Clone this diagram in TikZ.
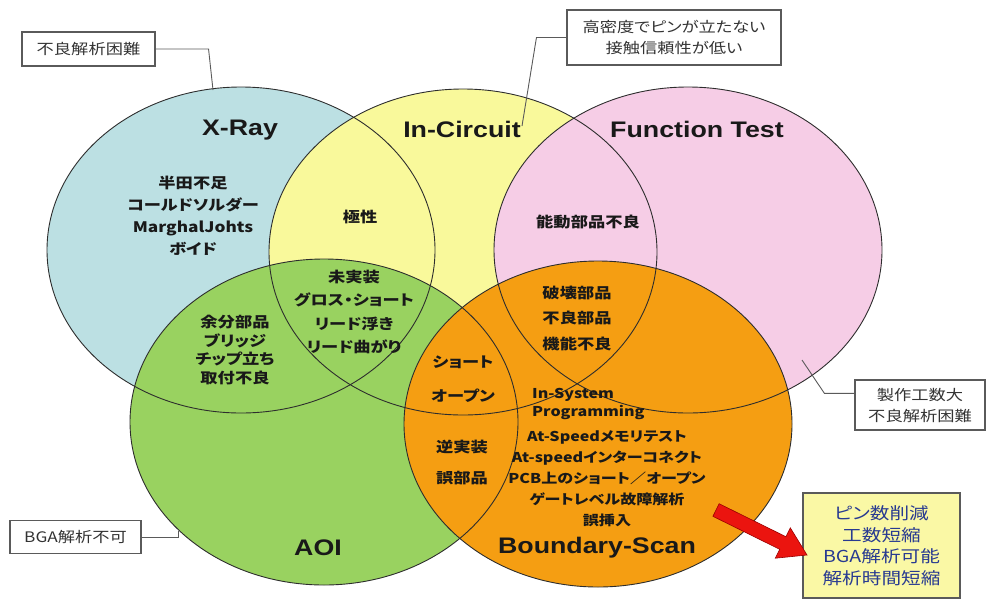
\documentclass[tikz,border=0pt]{standalone}
\usepackage{fontspec}
\setmainfont{Liberation Sans}
\newfontfamily\titlef[FakeStretch=1.19]{Liberation Sans}
\newfontfamily\jpf[FakeStretch=1.19,RawFeature=+palt]{Noto Sans CJK JP}
\usetikzlibrary{shapes.geometric}
\definecolor{xblue}{RGB}{188,224,227}
\definecolor{icyel}{RGB}{249,249,155}
\definecolor{ftpink}{RGB}{246,205,230}
\definecolor{aoigreen}{RGB}{153,210,96}
\definecolor{bsorange}{RGB}{245,158,18}
\definecolor{outl}{RGB}{45,45,45}
\definecolor{boxline}{RGB}{90,90,90}
\definecolor{notey}{RGB}{250,248,165}
\definecolor{noteblue}{RGB}{40,58,145}
\definecolor{arrred}{RGB}{235,20,15}
\tikzset{
  venn/.style={ellipse, minimum width=388pt, minimum height=326pt, inner sep=0pt, outer sep=0pt},
  vennline/.style={draw=outl, line width=0.9pt},
  ttl/.style={font=\titlef\bfseries\fontsize{22.5}{24}\selectfont, text=black!90, inner sep=0pt},
  lab/.style={font=\jpf\bfseries\fontsize{14.5}{#1}\selectfont, align=center, text=black!90, inner sep=0pt},
  lab/.default=20,
  slab/.style={font=\jpf\bfseries\fontsize{13.5}{#1}\selectfont, align=center, text=black!90, inner sep=0pt},
  slab/.default=21,
  callbox/.style={draw=boxline, line width=1.1pt, fill=white, font=\jpf\fontsize{14.5}{21}\selectfont, text=black!80, align=center, inner sep=0pt},
  callline/.style={draw=boxline, line width=0.9pt},
}
\begin{document}
\begin{tikzpicture}[x=1pt,y=-1pt]
\useasboundingbox (0,0) rectangle (987,600);
% filled circles
\node[venn, fill=xblue] (xray) at (241,250) {};
\node[venn, fill=icyel] (incir) at (463,252) {};
\node[venn, fill=ftpink] (func) at (688,250) {};
\node[venn, fill=aoigreen] (aoi) at (324,422) {};
\node[venn, fill=bsorange] (bscan) at (598,424) {};
% outlines
\foreach \n in {xray,incir,func,aoi,bscan}
  \draw[vennline] (\n.center) ellipse [x radius=194pt, y radius=163pt];
% titles
\node[ttl] (txray) at (240,130) {X-Ray};
\node[ttl] (tincir) at (462,129) {In-Circuit};
\node[ttl] (tfunc) at (697,129) {Function Test};
\node[ttl] (taoi) at (318,548) {AOI};
\node[ttl] (tbscan) at (597,548) {Boundary-Scan};
% region labels
\node[lab=22] (lxray) at (193,216) {半田不足\\コールドソルダー\\MarghalJohts\\ボイド};
\node[lab] (lpol) at (360,217) {極性};
\node[lab] (lact) at (588,222) {能動部品不良};
\node[lab=25.5] (lbroken) at (577,318) {破壊部品\\不良部品\\機能不良};
\node[lab=23.3] (lmiss) at (354,312) {未実装\\グロス・ショート\\リード浮き\\リード曲がり};
\node[lab=18.7] (lextra) at (235,350) {余分部品\\ブリッジ\\チップ立ち\\取付不良};
\node[lab=34] (lshort) at (463,379) {ショート\\オープン};
\node[lab=31] (lrev) at (462,462) {逆実装\\誤部品};
\node[slab=18, anchor=west, align=left] (lisp) at (532,404) {In-System\\Programming};
\node[slab=21] (lbs) at (607,479) {At-Speedメモリテスト\\At-speedインターコネクト\\PCB上のショート／オープン\\ゲートレベル故障解析\\誤挿入};
% callouts
\node[callbox, minimum width=133pt, minimum height=34pt] (cb1) at (88.5,49) {不良解析困難};
\coordinate (c1) at (213,90);
\draw[callline] (cb1.east) -- ++(53,0) -- (c1);
\node[callbox, minimum width=214pt, minimum height=55pt] (cb2) at (674,37.5) {高密度でピンが立たない\\接触信頼性が低い};
\coordinate (c2) at (522,126);
\draw[callline] (cb2.west) -- ++(-30,0) -- (c2);
\node[callbox, minimum width=130pt, minimum height=50pt] (cb3) at (920,405) {製作工数大\\不良解析困難};
\coordinate (c3) at (802,360);
\draw[callline] (cb3.170) -- ++(-30,0) -- (c3);
\node[callbox, minimum width=131pt, minimum height=33pt] (cb4) at (75.5,537) {BGA解析不可};
\coordinate (c4) at (178,531);
\draw[callline] (cb4.east) -| (c4);
% result box
\node[draw=boxline, line width=1.1pt, fill=notey, minimum width=157pt, minimum height=105pt, inner sep=0pt,
      font=\jpf\fontsize{16.5}{21.5}\selectfont, text=noteblue, align=center] (res) at (881.5,545.5)
      {ピン数削減\\工数短縮\\BGA解析可能\\解析時間短縮};
% red arrow
\filldraw[fill=arrred, draw=red!60!black, line width=0.6pt, line join=miter]
  (719.1,503.7) -- (785.9,536.7) -- (790.3,527.8) -- (807,555) -- (775.3,558.2) -- (779.7,549.3) -- (712.9,516.3) -- cycle;
\end{tikzpicture}
\end{document}
